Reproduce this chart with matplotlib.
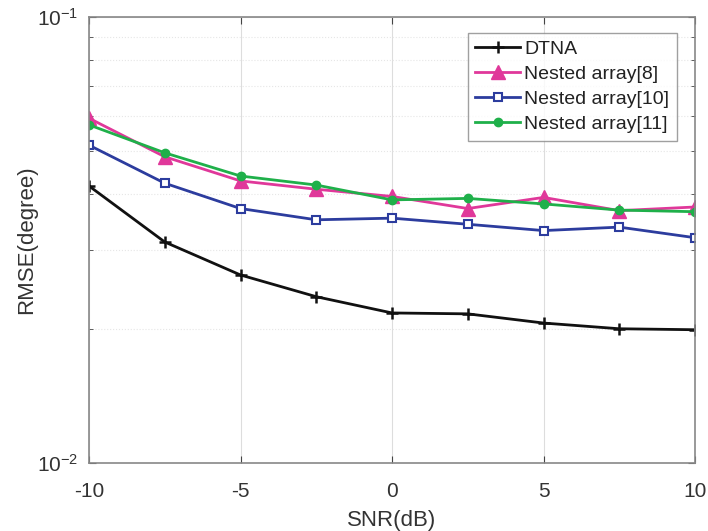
import matplotlib
matplotlib.use('Agg')
from matplotlib import pyplot as plt
from matplotlib.ticker import LogLocator, NullFormatter, FixedLocator

snr = [-10, -7.5, -5, -2.5, 0, 2.5, 5, 7.5, 10]
rmse_dtna = [0.0418, 0.0313, 0.0264, 0.0236, 0.0217, 0.0216, 0.0206, 0.0200, 0.0199]
rmse_nested8 = [0.0593, 0.0486, 0.0429, 0.0411, 0.0396, 0.0372, 0.0394, 0.0368, 0.0375]
rmse_nested10 = [0.0516, 0.0424, 0.0372, 0.0351, 0.0354, 0.0343, 0.0332, 0.0338, 0.0320]
rmse_nested11 = [0.0573, 0.0496, 0.0440, 0.0420, 0.0389, 0.0392, 0.0381, 0.0369, 0.0366]
labels = ['DTNA', 'Nested array[8]', 'Nested array[10]', 'Nested array[11]']

plt.rcParams['font.family'] = ['Liberation Sans', 'DejaVu Sans']
plt.rcParams['axes.unicode_minus'] = False
plt.rcParams['mathtext.fontset'] = 'custom'
plt.rcParams['mathtext.rm'] = 'Liberation Sans'
plt.rcParams['mathtext.default'] = 'regular'
fig = plt.figure(figsize=(7.08, 5.31), dpi=100)
ax = fig.add_axes([0.1257, 0.128, 0.856, 0.84])

ax.plot(snr, rmse_dtna, color='#111111', lw=2, marker='+', ms=8, mew=1.8, label=labels[0])
ax.plot(snr, rmse_nested8, color='#e0389a', lw=2, marker='^', ms=10, label=labels[1])
ax.plot(snr, rmse_nested10, color='#2c3c9e', lw=2, marker='s', ms=6, mfc='white', mew=1.5, label=labels[2])
ax.plot(snr, rmse_nested11, color='#1fb04a', lw=2, marker='o', ms=6, label=labels[3])

ax.set_yscale('log')
ax.set_xlim(-10, 10)
ax.set_ylim(1e-2, 1e-1)
ax.xaxis.set_major_locator(FixedLocator([-10, -5, 0, 5, 10]))
ax.yaxis.set_major_locator(LogLocator(base=10, numticks=5))
ax.yaxis.set_minor_locator(LogLocator(base=10, subs=range(2, 10), numticks=20))
ax.yaxis.set_minor_formatter(NullFormatter())

# MATLAB-like grid: light vertical majors, dotted horizontal minors
ax.grid(True, which='major', axis='x', color='#dddddd', lw=0.8)
ax.grid(True, which='minor', axis='y', color='#e6e6e6', lw=0.8, ls=':')
ax.grid(True, which='major', axis='y', color='#dddddd', lw=0.8)
ax.set_axisbelow(True)

for s in ax.spines.values():
    s.set_color('#888888')
    s.set_linewidth(1.2)
ax.tick_params(which='both', direction='in', colors='#444444', labelsize=15, top=True, right=True)
ax.tick_params(which='major', length=5)
ax.tick_params(which='minor', length=3)
ax.tick_params(axis='x', pad=14)
ax.tick_params(axis='y', pad=8)
for lab in ax.get_xticklabels() + ax.get_yticklabels():
    lab.set_color('#333333')

ax.set_xlabel('SNR(dB)', fontsize=16, color='#333333', labelpad=6)
ax.set_ylabel('RMSE(degree)', fontsize=16, color='#333333')
ax.yaxis.set_label_coords(-0.086, 0.5)

leg = ax.legend(loc='upper right', bbox_to_anchor=(0.97, 0.965), fontsize=14,
                frameon=True, fancybox=False, edgecolor='#888888', borderpad=0.4,
                labelspacing=0.38, handlelength=2.3, handletextpad=0.2, borderaxespad=0)
leg.get_frame().set_linewidth(1.0)
for t in leg.get_texts():
    t.set_color('#222222')

plt.savefig('out.png', dpi=100)
